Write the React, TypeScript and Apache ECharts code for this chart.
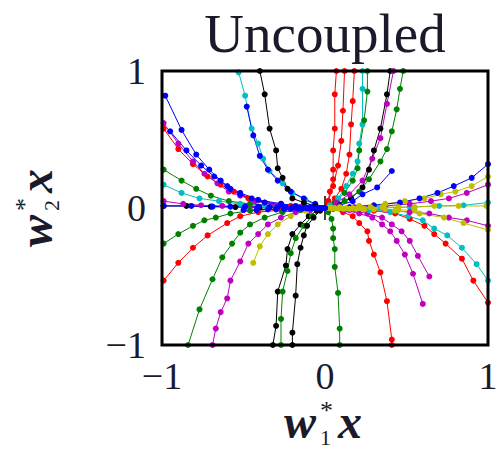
import React, { useEffect, useRef } from 'react';
import * as echarts from 'echarts';

type Pt = [number, number];

const titleText = 'Uncoupled';
const axisMin = -1;
const axisMax = 1;
const tickStep = 1;

// Trajectories, upper-left quadrant
const blueA: Pt[] = [[-0.98, 0.82], [-0.88, 0.57], [-0.79, 0.39], [-0.71, 0.28], [-0.64, 0.2], [-0.58, 0.14], [-0.52, 0.1], [-0.45, 0.07], [-0.37, 0.04], [-0.27, 0.03], [-0.18, 0.015], [-0.09, 0.007], [0, 0]];
const magentaA: Pt[] = [[-0.99, 0.62], [-0.9, 0.47], [-0.81, 0.34], [-0.74, 0.25], [-0.66, 0.18], [-0.59, 0.12], [-0.52, 0.09], [-0.43, 0.05], [-0.3, 0.02], [-0.15, 0.007], [0, 0]];
const redA: Pt[] = [[-0.99, 0.58], [-0.9, 0.43], [-0.81, 0.32], [-0.72, 0.23], [-0.64, 0.17], [-0.56, 0.12], [-0.47, 0.07], [-0.37, 0.04], [-0.21, 0.015], [0, 0]];
const blueB: Pt[] = [[-0.95, 0.56], [-0.85, 0.42], [-0.76, 0.31], [-0.68, 0.23], [-0.6, 0.16], [-0.52, 0.11], [-0.41, 0.06], [-0.27, 0.03], [-0.12, 0.007], [0, 0]];
const greenA: Pt[] = [[-0.99, 0.28], [-0.88, 0.2], [-0.79, 0.14], [-0.7, 0.09], [-0.59, 0.05], [-0.46, 0.03], [-0.3, 0.015], [-0.15, 0.007], [0, 0]];
const cyanA: Pt[] = [[-0.99, 0.17], [-0.88, 0.11], [-0.77, 0.07], [-0.65, 0.05], [-0.52, 0.03], [-0.37, 0.015], [-0.18, 0.007], [0, 0]];
const magentaB: Pt[] = [[-0.99, 0.05], [-0.87, 0.03], [-0.76, 0.02], [-0.63, 0.015], [-0.46, 0.007], [-0.24, 0], [0, 0]];
const blackA: Pt[] = [[-0.99, 0.015], [-0.85, 0.015], [-0.7, 0.01], [-0.55, 0.007], [-0.4, 0.004], [-0.2, 0.002], [0, 0]];
const cyanSteep: Pt[] = [[-0.53, 0.99], [-0.49, 0.82], [-0.45, 0.58], [-0.41, 0.47], [-0.38, 0.36], [-0.34, 0.27], [-0.26, 0.18], [-0.2, 0.11], [-0.12, 0.06], [-0.06, 0.02], [0, 0]];
const blueSteep: Pt[] = [[-0.48, 0.74], [-0.44, 0.53], [-0.4, 0.38], [-0.35, 0.28], [-0.29, 0.2], [-0.21, 0.12], [-0.13, 0.07], [-0.06, 0.03], [0, 0]];
const blackSteep: Pt[] = [[-0.4, 1.0], [-0.37, 0.83], [-0.34, 0.58], [-0.3, 0.42], [-0.29, 0.29], [-0.26, 0.22], [-0.23, 0.14], [-0.2, 0.07], [-0.13, 0.04], [-0.06, 0.015], [0, 0]];

// Trajectories, upper-right quadrant
const redV1: Pt[] = [[0.07, 1.0], [0.06, 0.83], [0.06, 0.58], [0.05, 0.42], [0.05, 0.28], [0.05, 0.21], [0.03, 0.12], [0.02, 0.05], [0, 0]];
const redV2: Pt[] = [[0.18, 1.0], [0.17, 0.78], [0.16, 0.61], [0.15, 0.39], [0.13, 0.25], [0.1, 0.14], [0.06, 0.07], [0.02, 0.015], [0, 0]];
const redV3: Pt[] = [[0.12, 1.0], [0.11, 0.71], [0.1, 0.49], [0.08, 0.31], [0.05, 0.16], [0.02, 0.05], [0, 0]];
const cyanV: Pt[] = [[0.23, 1.0], [0.23, 0.87], [0.23, 0.61], [0.21, 0.47], [0.2, 0.34], [0.17, 0.25], [0.13, 0.16], [0.08, 0.07], [0.03, 0.02], [0, 0]];
const greenV: Pt[] = [[0.26, 1.0], [0.26, 0.85], [0.24, 0.64], [0.21, 0.42], [0.2, 0.29], [0.17, 0.2], [0.12, 0.11], [0.06, 0.04], [0, 0]];
const blackV: Pt[] = [[0.4, 1.0], [0.38, 0.83], [0.34, 0.58], [0.3, 0.42], [0.27, 0.28], [0.23, 0.15], [0.16, 0.07], [0.08, 0.03], [0, 0]];
const magentaV: Pt[] = [[0.42, 1.0], [0.38, 0.76], [0.34, 0.51], [0.29, 0.36], [0.23, 0.2], [0.15, 0.1], [0.07, 0.04], [0, 0]];
const greenV2: Pt[] = [[0.48, 1.0], [0.46, 0.87], [0.44, 0.72], [0.41, 0.56], [0.38, 0.43], [0.34, 0.34], [0.27, 0.21], [0.21, 0.12], [0.12, 0.05], [0, 0]];
const blueV: Pt[] = [[0.41, 0.27], [0.32, 0.15], [0.23, 0.1], [0.17, 0.05], [0.09, 0.02], [0, 0]];
const blueR: Pt[] = [[1.0, 0.32], [0.9, 0.22], [0.79, 0.16], [0.69, 0.11], [0.58, 0.07], [0.46, 0.04], [0.3, 0.02], [0.15, 0.007], [0, 0]];
const yellowR: Pt[] = [[1.0, 0.23], [0.9, 0.16], [0.8, 0.12], [0.71, 0.1], [0.61, 0.07], [0.49, 0.05], [0.37, 0.03], [0.21, 0.015], [0.09, 0.007], [0, 0]];
const magentaR: Pt[] = [[1.0, 0.17], [0.87, 0.11], [0.76, 0.07], [0.65, 0.05], [0.52, 0.03], [0.37, 0.015], [0.18, 0.007], [0, 0]];
const cyanR: Pt[] = [[1.0, 0.04], [0.85, 0.02], [0.7, 0.015], [0.52, 0.007], [0.34, 0], [0.15, 0], [0, 0]];

// Trajectories, lower-left quadrant
const greenL1: Pt[] = [[-0.99, -0.26], [-0.9, -0.19], [-0.81, -0.13], [-0.74, -0.09], [-0.67, -0.07], [-0.58, -0.04], [-0.46, -0.02], [-0.3, -0.007], [-0.15, 0], [0, 0]];
const redL: Pt[] = [[-0.99, -0.53], [-0.9, -0.4], [-0.81, -0.29], [-0.72, -0.2], [-0.6, -0.11], [-0.52, -0.06], [-0.41, -0.03], [-0.27, -0.015], [-0.15, -0.007], [0, 0]];
const greenL2: Pt[] = [[-0.84, -1.0], [-0.77, -0.74], [-0.69, -0.52], [-0.63, -0.36], [-0.57, -0.26], [-0.52, -0.18], [-0.46, -0.12], [-0.37, -0.07], [-0.26, -0.03], [-0.15, -0.015], [0, 0]];
const magentaL: Pt[] = [[-0.69, -1.0], [-0.67, -0.88], [-0.64, -0.76], [-0.6, -0.66], [-0.58, -0.53], [-0.52, -0.39], [-0.47, -0.26], [-0.41, -0.19], [-0.35, -0.12], [-0.27, -0.07], [-0.18, -0.03], [-0.09, -0.015], [0, 0]];
const yellowL: Pt[] = [[-0.44, -0.4], [-0.4, -0.28], [-0.35, -0.19], [-0.29, -0.12], [-0.21, -0.06], [-0.12, -0.02], [0, 0]];
const blackL1: Pt[] = [[-0.32, -1.0], [-0.3, -0.86], [-0.29, -0.61], [-0.24, -0.42], [-0.23, -0.3], [-0.2, -0.19], [-0.15, -0.12], [-0.1, -0.06], [-0.05, -0.02], [0, 0]];
const greenL3: Pt[] = [[-0.27, -1.0], [-0.27, -0.81], [-0.26, -0.61], [-0.23, -0.46], [-0.21, -0.33], [-0.18, -0.22], [-0.13, -0.13], [-0.08, -0.06], [0, 0]];
const blackL2: Pt[] = [[-0.2, -1.0], [-0.2, -0.91], [-0.18, -0.64], [-0.17, -0.41], [-0.15, -0.29], [-0.13, -0.2], [-0.11, -0.13], [-0.07, -0.07], [-0.03, -0.02], [0, 0]];

// Trajectories, lower-right quadrant
const greenR: Pt[] = [[0.09, -1.0], [0.09, -0.88], [0.08, -0.62], [0.06, -0.43], [0.06, -0.3], [0.05, -0.22], [0.05, -0.15], [0.04, -0.08], [0.02, -0.03], [0, 0]];
const redR: Pt[] = [[0.41, -1.0], [0.41, -0.96], [0.38, -0.68], [0.34, -0.47], [0.3, -0.34], [0.27, -0.24], [0.26, -0.17], [0.21, -0.11], [0.17, -0.06], [0.11, -0.03], [0.05, -0.007], [0, 0]];
const magentaR1: Pt[] = [[0.6, -0.7], [0.54, -0.48], [0.49, -0.34], [0.44, -0.24], [0.4, -0.17], [0.35, -0.12], [0.29, -0.07], [0.21, -0.04], [0.12, -0.015], [0, 0]];
const magentaR2: Pt[] = [[0.64, -0.5], [0.57, -0.35], [0.52, -0.24], [0.47, -0.17], [0.41, -0.12], [0.35, -0.07], [0.26, -0.04], [0.15, -0.015], [0, 0]];
const redR2: Pt[] = [[1.0, -0.69], [0.91, -0.53], [0.84, -0.37], [0.74, -0.26], [0.67, -0.19], [0.61, -0.13], [0.52, -0.08], [0.43, -0.04], [0.3, -0.02], [0.15, -0.007], [0, 0]];
const cyanR2: Pt[] = [[1.0, -0.53], [0.93, -0.41], [0.84, -0.29], [0.75, -0.2], [0.67, -0.15], [0.6, -0.09], [0.51, -0.06], [0.4, -0.03], [0.27, -0.015], [0.12, -0.007], [0, 0]];
const magentaR3: Pt[] = [[1.0, -0.13], [0.87, -0.09], [0.76, -0.07], [0.64, -0.04], [0.52, -0.03], [0.37, -0.015], [0.18, -0.007], [0, 0]];
const yellowR2: Pt[] = [[1.0, -0.16], [0.85, -0.11], [0.73, -0.07], [0.58, -0.04], [0.43, -0.02], [0.24, -0.007], [0, 0]];

// Trajectories hugging the horizontal axis
const yellowAxis: Pt[] = [[0.99, 0.015], [0.82, 0.015], [0.67, 0.015], [0.55, 0.007], [0.45, 0.007], [0.35, 0.007], [0.28, 0.007], [0.22, 0], [0.17, 0], [0.13, 0], [0.09, 0], [0.06, 0], [0.04, 0], [0.02, 0], [0, 0]];
const yellowAxis2: Pt[] = [[0.55, -0.015], [0.45, -0.015], [0.37, -0.01], [0.3, -0.01], [0.24, -0.01], [0.19, -0.007], [0.15, -0.007], [0.11, -0.005], [0.08, -0.004], [0.05, -0.002], [0.03, 0], [0, 0]];
const blueAxis: Pt[] = [[-0.99, 0.015], [-0.82, 0.015], [-0.69, 0.01], [-0.58, 0.01], [-0.49, 0.01], [-0.41, 0.01], [-0.34, 0.007], [-0.29, 0.007], [-0.24, 0.005], [-0.2, 0.004], [-0.16, 0.003], [-0.13, 0.002], [-0.1, 0], [-0.07, 0], [-0.05, 0], [-0.03, 0], [-0.01, 0], [0, 0]];
const blueAxis2: Pt[] = [[-0.5, -0.015], [-0.42, -0.015], [-0.35, -0.01], [-0.3, -0.01], [-0.25, -0.007], [-0.21, -0.007], [-0.17, -0.005], [-0.14, -0.004], [-0.11, -0.003], [-0.08, -0.002], [-0.05, 0], [-0.02, 0], [0, 0]];

const BLUE = '#0000ff';
const GREEN = '#008000';
const RED = '#ff0000';
const CYAN = '#00bfbf';
const MAGENTA = '#bf00bf';
const YELLOW = '#bfbf00';
const BLACK = '#000000';

const trajectories: [Pt[], string][] = [
  [blackA, BLACK], [magentaB, MAGENTA], [cyanA, CYAN], [greenA, GREEN],
  [redA, RED], [magentaA, MAGENTA], [blueB, BLUE], [blueA, BLUE],
  [cyanSteep, CYAN], [blueSteep, BLUE], [blackSteep, BLACK],
  [redV1, RED], [redV3, RED], [redV2, RED], [cyanV, CYAN], [greenV, GREEN],
  [blackV, BLACK], [magentaV, MAGENTA], [greenV2, GREEN], [blueV, BLUE],
  [cyanR, CYAN], [magentaR, MAGENTA], [yellowR, YELLOW], [blueR, BLUE],
  [greenL1, GREEN], [redL, RED], [greenL2, GREEN], [magentaL, MAGENTA],
  [yellowL, YELLOW], [blackL1, BLACK], [greenL3, GREEN], [blackL2, BLACK],
  [greenR, GREEN], [redR, RED], [magentaR1, MAGENTA], [magentaR2, MAGENTA],
  [redR2, RED], [cyanR2, CYAN], [magentaR3, MAGENTA], [yellowR2, YELLOW],
  [yellowAxis2, YELLOW], [yellowAxis, YELLOW], [blueAxis2, BLUE], [blueAxis, BLUE],
];

const SERIF = '"Liberation Serif", "DejaVu Serif", serif';
const INK = '#1c1a2a';

const GRID = { left: 162, top: 71, width: 326, height: 274 };

const tickLabel = (v: number) => (v < 0 ? `\u2212${Math.abs(v)}` : `${v}`);

// w^*_k x written as separate glyphs: letter, superscript star, subscript index, letter
function mathLabel(sub: string, x: number, y: number, rotation: number) {
  const big = 48;
  const bold = `italic bold ${big}px ${SERIF}`;
  return {
    type: 'group',
    x,
    y,
    rotation,
    children: [
      { type: 'text', x: 0, y: -0.34 * big, style: { text: 'w', font: bold, fill: INK, align: 'left', verticalAlign: 'middle' } },
      { type: 'text', x: 36, y: -28, style: { text: '*', font: `26px ${SERIF}`, fill: INK, align: 'left', verticalAlign: 'middle' } },
      { type: 'text', x: 36, y: -1, style: { text: sub, font: `22px ${SERIF}`, fill: INK, align: 'left', verticalAlign: 'middle' } },
      { type: 'text', x: 54, y: -0.34 * big, style: { text: 'x', font: bold, fill: INK, align: 'left', verticalAlign: 'middle' } },
    ],
  };
}

export default function App() {
  const ref = useRef<HTMLDivElement>(null);

  useEffect(() => {
    if (!ref.current) return;
    const chart = echarts.init(ref.current, undefined, { renderer: 'svg' });

    const valueAxis = (extra: any) => ({
      type: 'value',
      min: axisMin,
      max: axisMax,
      interval: tickStep,
      splitLine: { show: false },
      axisLine: { show: false },
      axisTick: { show: true, inside: true, length: 12, lineStyle: { color: '#000', width: 1.5 } },
      ...extra,
    });

    const labelStyle = { fontFamily: SERIF, fontSize: 38, color: INK, formatter: tickLabel };

    chart.setOption({
      animation: false,
      backgroundColor: '#ffffff',
      grid: { ...GRID, containLabel: false },
      xAxis: [
        valueAxis({ position: 'bottom', axisLabel: { ...labelStyle, margin: 12 } }),
        valueAxis({ position: 'top', axisLabel: { show: false } }),
      ],
      yAxis: [
        valueAxis({ position: 'left', axisLabel: { ...labelStyle, margin: 16 } }),
        valueAxis({ position: 'right', axisLabel: { show: false } }),
      ],
      series: trajectories.map(([data, color]) => ({
        type: 'line',
        data,
        xAxisIndex: 0,
        yAxisIndex: 0,
        symbol: 'circle',
        symbolSize: 6,
        showSymbol: true,
        clip: true,
        lineStyle: { color, width: 1 },
        itemStyle: { color },
        emphasis: { disabled: true },
        silent: true,
      })),
      graphic: [
        {
          type: 'rect',
          z: 100,
          shape: { x: GRID.left, y: GRID.top, width: GRID.width, height: GRID.height },
          style: { fill: 'none', stroke: '#000', lineWidth: 3 },
          silent: true,
        },
        {
          type: 'text',
          x: 325,
          y: 52 - 0.34 * 55,
          style: { text: titleText, font: `55px ${SERIF}`, fill: INK, align: 'center', verticalAlign: 'middle' },
        },
        mathLabel('1', 284, 438, 0),
        mathLabel('2', 52, 247, Math.PI / 2),
      ],
    });

    return () => chart.dispose();
  }, []);

  return <div ref={ref} style={{ position: 'absolute', left: 0, top: 0, width: 502, height: 449 }} />;
}
